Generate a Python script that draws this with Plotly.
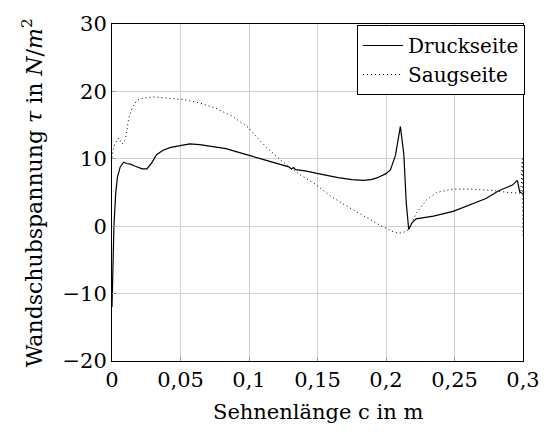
import plotly.graph_objects as go

# Wall shear stress along the chord, pressure side
druck_x = [0.0, 0.0008, 0.0014, 0.0027, 0.0040, 0.0060, 0.0085, 0.0105, 0.0135, 0.0170,
           0.0220, 0.0255, 0.0290, 0.0325, 0.0375, 0.0430, 0.0500, 0.0567, 0.0640, 0.0712,
           0.0784, 0.0832, 0.0900, 0.1000, 0.1120, 0.1240, 0.1290, 0.1310, 0.1325, 0.1340,
           0.1410, 0.1505, 0.1650, 0.1750, 0.1840, 0.1900, 0.1937, 0.2000, 0.2033, 0.2069,
           0.2090, 0.2105, 0.2130, 0.2148, 0.2166, 0.2190, 0.2220, 0.2346, 0.2490, 0.2610,
           0.2730, 0.2826, 0.2923, 0.2959, 0.2976, 0.3000]
druck_tau = [-12.0, -6.0, 0.0, 4.9, 7.3, 8.8, 9.5, 9.3, 9.2, 8.9,
             8.5, 8.5, 9.4, 10.6, 11.3, 11.7, 12.0, 12.2, 12.1, 11.9,
             11.7, 11.5, 11.1, 10.55, 9.8, 9.1, 8.8, 8.5, 8.7, 8.4,
             8.2, 7.8, 7.2, 6.9, 6.8, 6.95, 7.2, 7.8, 8.4, 10.5,
             13.0, 14.8, 10.7, 3.4, -0.5, 0.5, 1.1, 1.5, 2.2, 3.2,
             4.1, 5.3, 6.1, 6.8, 5.1, 4.8]

# Suction side
saug_x = [0.0, 0.0010, 0.0025, 0.0050, 0.0062, 0.0075, 0.0098, 0.0122, 0.0146, 0.0182,
          0.0230, 0.0300, 0.0400, 0.0520, 0.0638, 0.0758, 0.0878, 0.0998, 0.1070, 0.1143,
          0.1239, 0.1360, 0.1480, 0.1600, 0.1720, 0.1840, 0.1960, 0.2056, 0.2092, 0.2130,
          0.2164, 0.2224, 0.2296, 0.2368, 0.2489, 0.2633, 0.2777, 0.2897, 0.2985, 0.2995,
          0.3000]
saug_tau = [10.2, 11.5, 12.4, 13.1, 12.6, 12.2, 12.9, 16.0, 17.5, 18.7,
            19.0, 19.2, 19.0, 18.8, 18.3, 17.5, 16.3, 14.6, 12.9, 11.4,
            9.7, 7.8, 6.3, 4.4, 2.9, 1.5, 0.1, -0.85, -1.05, -0.9,
            -0.5, 2.0, 3.9, 5.0, 5.5, 5.5, 5.3, 5.0, 4.9, 10.0,
            -1.4]

x_ticks = [0, 0.05, 0.1, 0.15, 0.2, 0.25, 0.3]
x_tick_labels = ["0", "0,05", "0,1", "0,15", "0,2", "0,25", "0,3"]
y_ticks = [-20, -10, 0, 10, 20, 30]

x_title = "Sehnenlänge c in m"
y_title = "Wandschubspannung <i>τ</i> in <i>N</i>/<i>m</i><sup>2</sup>"

FONT = "DejaVu Serif"
GRID = "#cfcfcf"
TXT = dict(family=FONT, size=21, color="black")

fig = go.Figure()
fig.add_trace(go.Scatter(x=druck_x, y=druck_tau, mode="lines", name="Druckseite",
                         line=dict(color="black", width=1.2)))
fig.add_trace(go.Scatter(x=saug_x, y=saug_tau, mode="lines", name="Saugseite",
                         line=dict(color="black", width=1, dash="1px,3px")))

axis_common = dict(showline=True, linecolor="black", linewidth=1, mirror=True,
                   showgrid=True, gridcolor=GRID, gridwidth=1, zeroline=False,
                   ticks="inside", ticklen=4, tickcolor="#9a9a9a",
                   tickfont=TXT)

fig.update_xaxes(range=[0, 0.3], tickvals=x_ticks, ticktext=x_tick_labels, **axis_common)
fig.update_yaxes(range=[-20, 30], tickvals=y_ticks, **axis_common)

# Axis titles placed as paper annotations for precise positioning
fig.add_annotation(text=x_title, xref="paper", yref="paper", x=0.5, y=-0.151,
                   xanchor="center", yanchor="middle", showarrow=False, font=TXT)
fig.add_annotation(text=y_title, xref="paper", yref="paper", x=-0.195, y=0.5,
                   xanchor="center", yanchor="middle", textangle=-90, showarrow=False,
                   font=dict(family=FONT, size=22, color="black"))

fig.update_layout(
    width=552, height=434,
    margin=dict(l=112, r=25, t=17, b=73),
    paper_bgcolor="white", plot_bgcolor="white",
    font=TXT,
    showlegend=True,
    legend=dict(x=1.005, y=0.997, xanchor="right", yanchor="top",
                bgcolor="white", bordercolor="black", borderwidth=1,
                font=dict(family=FONT, size=20, color="black"),
                tracegroupgap=0, itemwidth=40),
)

fig.write_html("out.html")
